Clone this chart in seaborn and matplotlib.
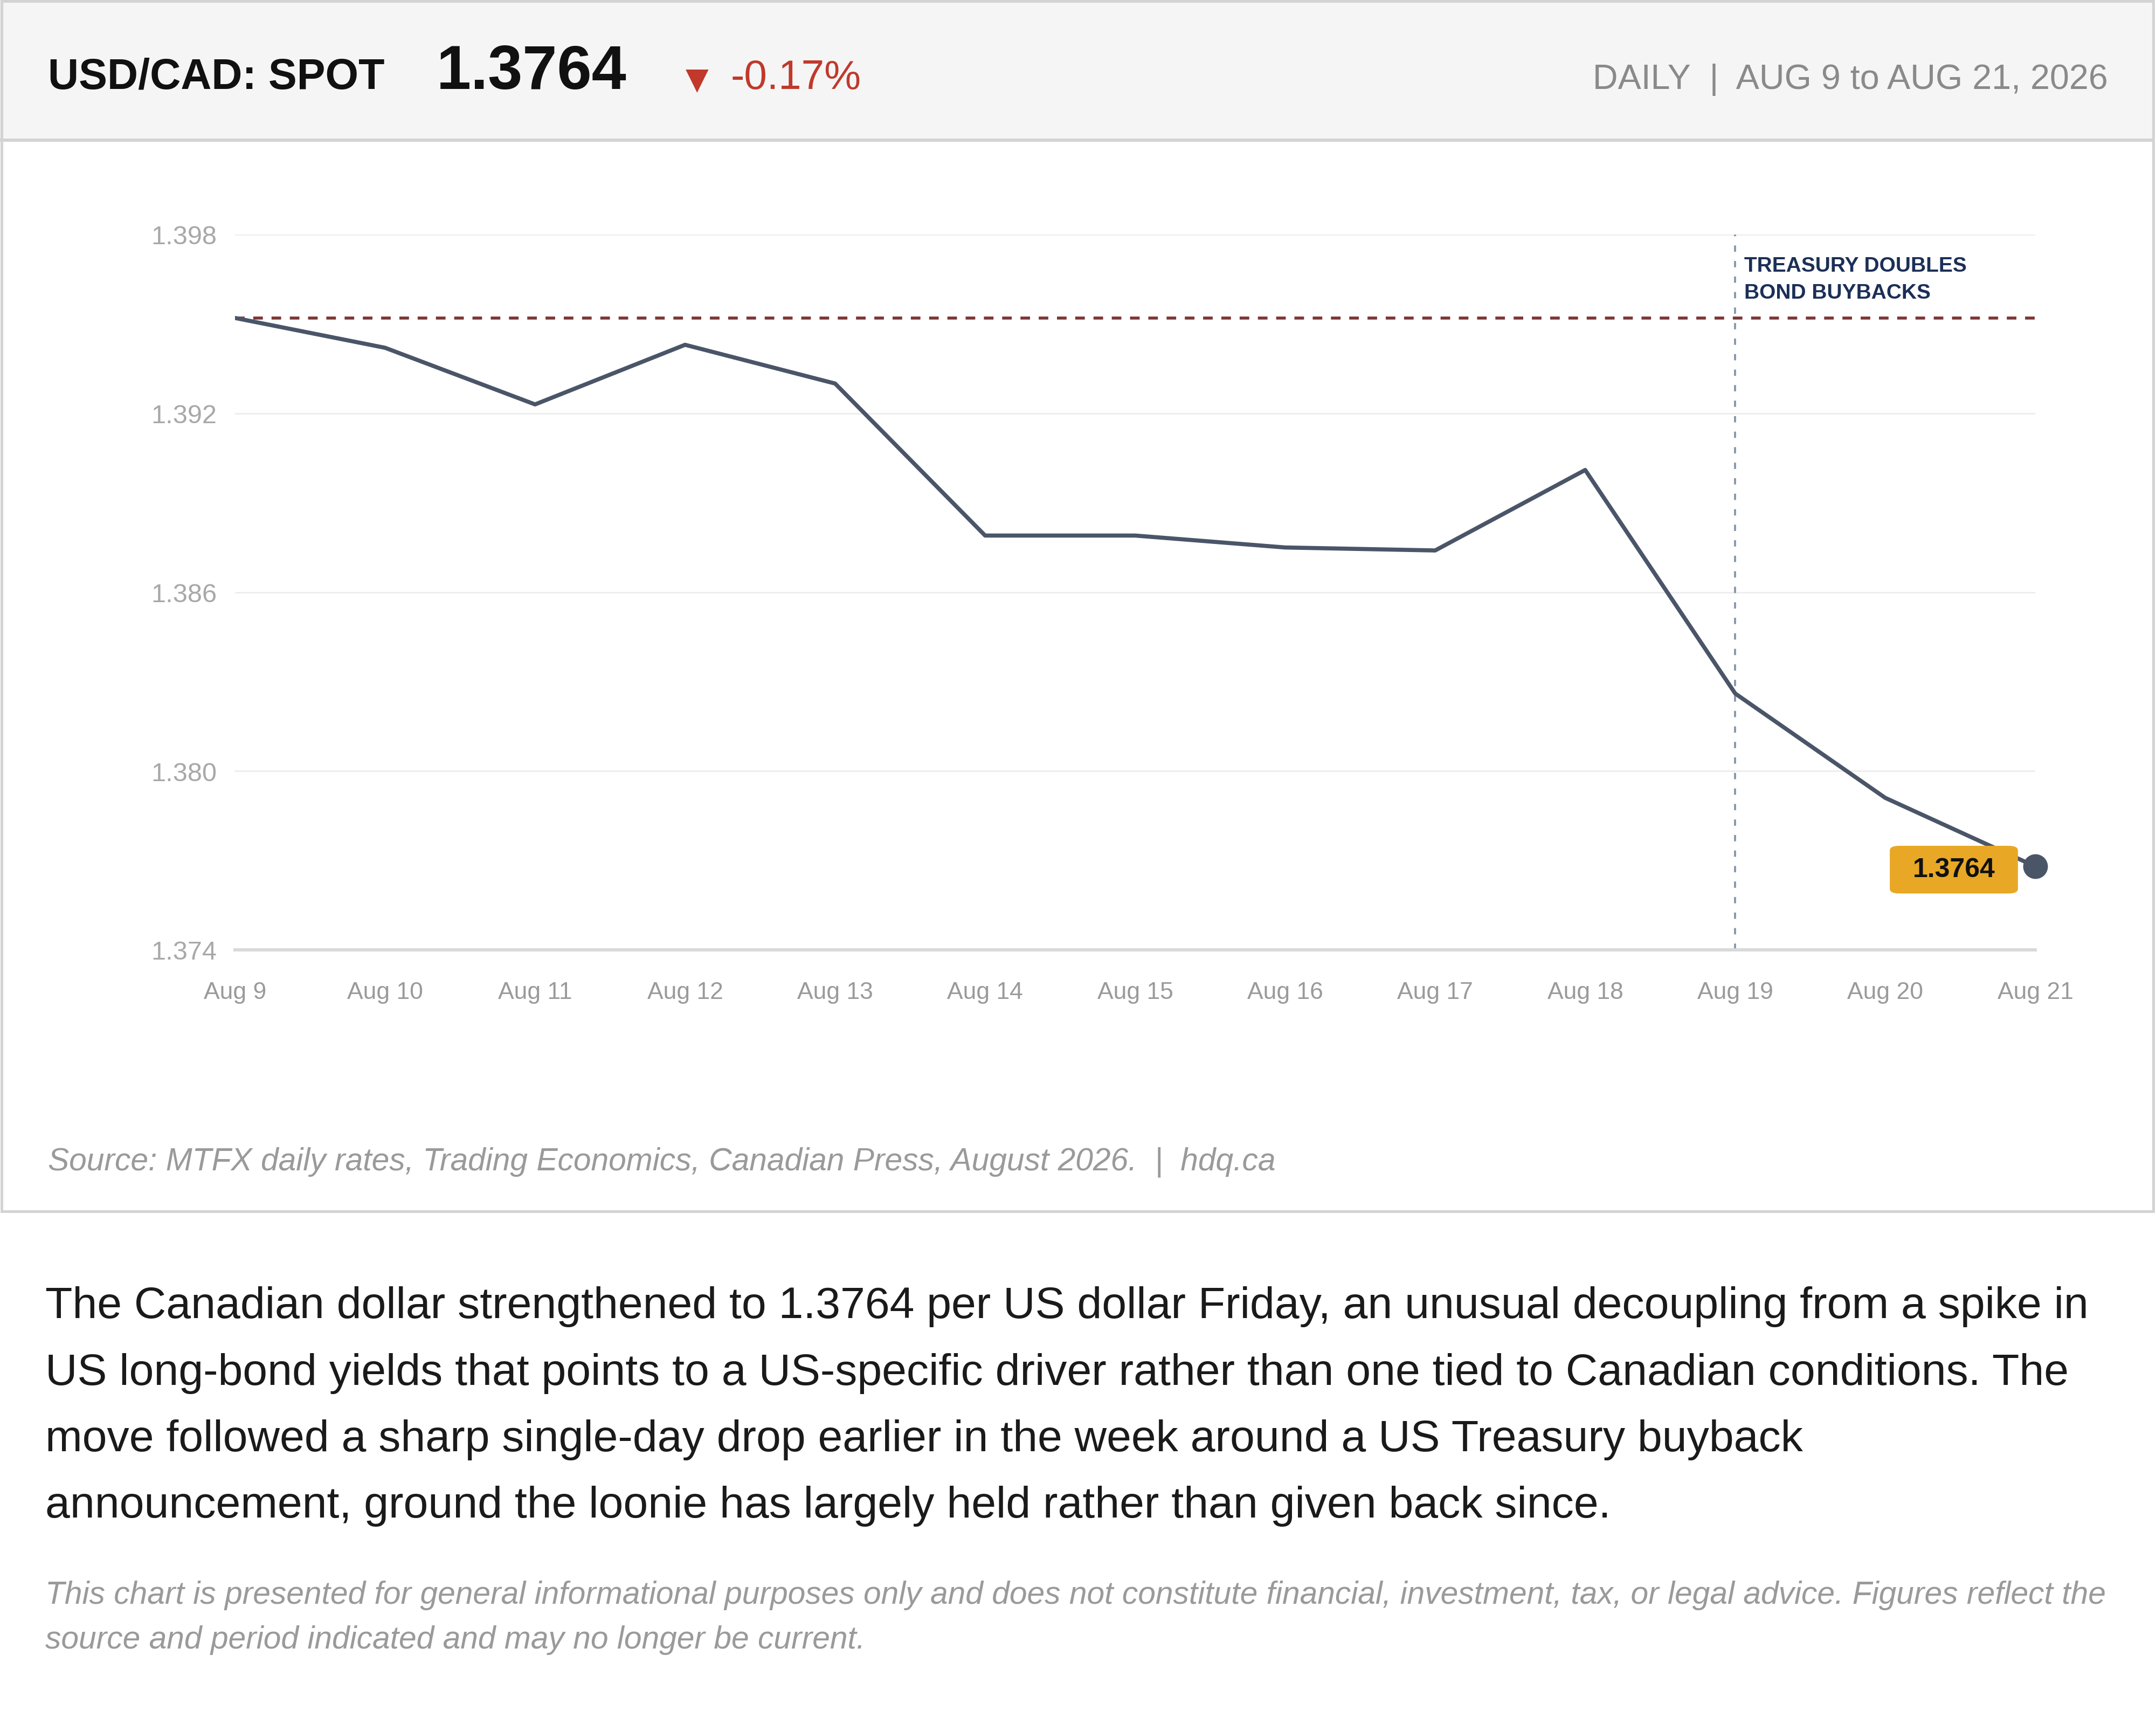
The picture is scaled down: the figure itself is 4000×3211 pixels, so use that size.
import numpy as np
import pandas as pd
import matplotlib
matplotlib.use("Agg")
import matplotlib.pyplot as plt
from matplotlib.patches import Rectangle
import seaborn as sns

# chart data
days = ["Aug 9", "Aug 10", "Aug 11", "Aug 12", "Aug 13", "Aug 14", "Aug 15",
        "Aug 16", "Aug 17", "Aug 18", "Aug 19", "Aug 20", "Aug 21"]
rates = [1.3952, 1.3942, 1.3923, 1.3943, 1.3930, 1.3879, 1.3879,
         1.3875, 1.3874, 1.3901, 1.3826, 1.3791, 1.3768]
ref_level = 1.3952
y_ticks = [1.374, 1.380, 1.386, 1.392, 1.398]
event_day = "Aug 19"
event_lines = ["TREASURY DOUBLES", "BOND BUYBACKS"]

pair_label = "USD/CAD: SPOT"
spot_text = "1.3764"
change_text = "-0.17%"
period_text = "DAILY  |  AUG 9 to AUG 21, 2026"
source_text = "Source: MTFX daily rates, Trading Economics, Canadian Press, August 2026.  |  hdq.ca"
body_lines = [
    "The Canadian dollar strengthened to 1.3764 per US dollar Friday, an unusual decoupling from a spike in",
    "US long-bond yields that points to a US-specific driver rather than one tied to Canadian conditions. The",
    "move followed a sharp single-day drop earlier in the week around a US Treasury buyback",
    "announcement, ground the loonie has largely held rather than given back since.",
]
disclaimer_lines = [
    "This chart is presented for general informational purposes only and does not constitute financial, investment, tax, or legal advice. Figures reflect the",
    "source and period indicated and may no longer be current.",
]

LINE = "#4a5568"
W, H = 4000, 3212

sns.set_theme(style="white")
plt.rcParams["font.family"] = ["Liberation Sans", "DejaVu Sans"]


def px(x, y):
    # pixel position (from top-left) -> figure fraction
    return x / W, 1 - y / H


fig = plt.figure(figsize=(W / 100, H / 100), dpi=100)
fig.patch.set_facecolor("white")

# card frame and header band
fig.patches.append(Rectangle(px(0, 261), 3995 / W, 261 / H, transform=fig.transFigure,
                             facecolor="#f5f5f5", edgecolor="none", zorder=0))
fig.patches.append(Rectangle(px(2.5, 2248), 3992 / W, 2245 / H, transform=fig.transFigure,
                             facecolor="none", edgecolor="#d3d3d3", linewidth=3.6, zorder=1))
fig.lines.append(plt.Line2D([0, 3995 / W], [1 - 261 / H] * 2, transform=fig.transFigure,
                            color="#d3d3d3", linewidth=4.3))

ax = fig.add_axes([436 / W, 1 - 1763 / H, (3776 - 436) / W, (1763 - 436) / H])
ax.set_facecolor("none")

df = pd.DataFrame({"pos": np.arange(len(days)), "rate": rates})
sns.lineplot(data=df, x="pos", y="rate", ax=ax, color=LINE, linewidth=5.5, zorder=3)

ax.set_xlim(0, len(days) - 1)
ax.set_ylim(y_ticks[0], y_ticks[-1])
ax.set_xticks(df["pos"])
ax.set_xticklabels(days)
ax.set_yticks(y_ticks)
ax.set_yticklabels([f"{t:.3f}" for t in y_ticks])
ax.set_xlabel("")
ax.set_ylabel("")
ax.tick_params(axis="both", length=0)
ax.tick_params(axis="x", pad=42, labelsize=32, labelcolor="#9a9a9a")
ax.tick_params(axis="y", pad=24, labelsize=35, labelcolor="#a8a8a8")
ax.yaxis.grid(True, color="#ececec", linewidth=2)
ax.xaxis.grid(False)
for side in ["top", "left", "right"]:
    ax.spines[side].set_visible(False)
ax.spines["bottom"].set_color("#d9d9d9")
ax.spines["bottom"].set_linewidth(4.3)

# reference level and event marker
ax.axhline(ref_level, color="#7b3535", linewidth=4, linestyle=(0, (3.2, 2.9)), zorder=2)
ev = days.index(event_day)
ax.axvline(ev, color="#8a97ad", linewidth=2.8, linestyle=(0, (3.0, 4.4)), zorder=2)
for i, line in enumerate(event_lines):
    ax.annotate(line, xy=(ev, y_ticks[-1]), xytext=(17, -68 - 50 * i),
                textcoords="offset pixels", ha="left", va="baseline",
                fontsize=28, fontweight="bold", color="#1b2f57")

# end point and value tag
ax.plot([df["pos"].iloc[-1]], [rates[-1]], "o", color=LINE, markersize=32,
        clip_on=False, zorder=5)
ax.annotate(spot_text, xy=(df["pos"].iloc[-1], rates[-1]), xytext=(-151, -6),
            textcoords="offset pixels", ha="center", va="center",
            fontsize=36, fontweight="bold", color="#111111", zorder=6,
            bbox=dict(boxstyle="round,pad=0.85,rounding_size=0.35", mutation_aspect=0.5,
                      facecolor="#e8a825", edgecolor="none"))

# header texts
fig.text(*px(89, 165), pair_label, fontsize=57, fontweight="bold", color="#111111", va="baseline")
fig.text(*px(810, 165), spot_text, fontsize=83, fontweight="bold", color="#111111", va="baseline")
fig.text(*px(1272, 165), "\u25bc", fontsize=40, color="#c0392b", va="baseline",
         family=["DejaVu Sans"])
fig.text(*px(1356, 165), change_text, fontsize=55, color="#c0392b", va="baseline")
fig.text(*px(3911, 165), period_text, fontsize=46.5, color="#8a8a8a", va="baseline", ha="right")

# footer of the card
fig.text(*px(89, 2171), source_text, fontsize=42.3, style="italic", color="#9a9a9a", va="baseline")

# body copy below the card
for i, line in enumerate(body_lines):
    fig.text(*px(84, 2445 + 123.5 * i), line, fontsize=59.3, color="#1a1a1a", va="baseline")
for i, line in enumerate(disclaimer_lines):
    fig.text(*px(84, 2975 + 83 * i), line, fontsize=42.3, style="italic", color="#9a9a9a",
             va="baseline")

fig.savefig("out.png", dpi=100)
